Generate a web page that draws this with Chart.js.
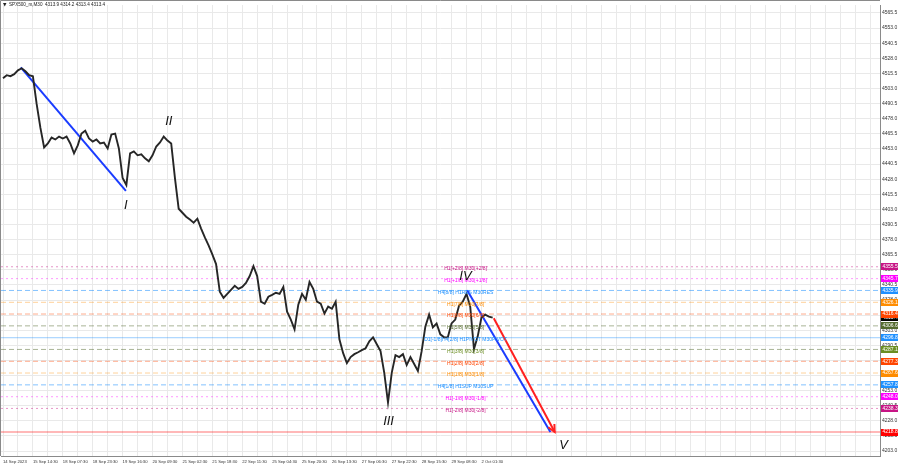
<!DOCTYPE html>
<html><head><meta charset="utf-8">
<script src="https://cdn.jsdelivr.net/npm/chart.js@4.4.0/dist/chart.umd.min.js"></script>
<style>html,body{margin:0;padding:0;background:#fff;}canvas{display:block;}</style>
</head><body>
<canvas id="c" width="900" height="468"></canvas>
<script>
// ---------- data ----------
const symbolTitle = 'SPX500_m,M30  4313.9 4314.2 4313.4 4313.4';
const timeLabels = ['14 Sep 2023','15 Sep 14:30','18 Sep 07:30','18 Sep 23:30','19 Sep 16:30',
  '20 Sep 09:30','21 Sep 02:30','21 Sep 18:30','22 Sep 11:30','25 Sep 04:30','25 Sep 20:30',
  '26 Sep 13:30','27 Sep 06:30','27 Sep 22:30','28 Sep 15:30','29 Sep 08:30','2 Oct 01:30'];
const barsPerLabel = 32;
const barsPerGrid = 16;
const barsPerSample = 4;
const closes = [4511.5,4514.0,4513.2,4514.8,4518.0,4519.7,4517.2,4514.0,4513.1,4490.2,
  4470.6,4454.2,4457.5,4462.4,4460.8,4463.2,4461.6,4463.2,4457.5,4449.3,
  4455.9,4465.7,4468.1,4461.6,4459.1,4460.8,4457.5,4458.3,4453.4,4464.9,
  4465.7,4453.4,4428.9,4423.1,4449.3,4451.0,4447.7,4448.5,4445.2,4442.8,
  4447.7,4455.0,4458.3,4463.2,4459.9,4457.5,4428.9,4403.5,4400.2,4396.9,
  4394.5,4392.0,4395.3,4387.1,4379.8,4373.2,4365.8,4357.7,4334.8,4329.8,
  4333.1,4336.4,4339.7,4337.2,4338.8,4342.1,4347.8,4356.0,4347.8,4326.6,
  4324.9,4330.7,4332.3,4334.0,4333.1,4338.8,4318.4,4311.8,4303.7,4324.1,
  4333.1,4328.2,4342.9,4337.2,4326.6,4324.9,4316.8,4322.5,4320.8,4326.6,
  4295.5,4284.0,4275.8,4280.8,4283.2,4284.8,4286.5,4288.1,4293.8,4297.1,
  4291.4,4285.7,4267.7,4243.2,4267.7,4282.4,4280.8,4283.2,4274.2,4280.8,
  4275.0,4269.3,4285.7,4306.1,4315.9,4305.3,4308.6,4299.6,4297.1,4297.1,
  4308.6,4311.8,4323.3,4326.6,4333.1,4322.5,4287.3,4297.9,4313.5,4315.9,
  4314.3,4313.4];
const lastPrice = 4313.4;
const yTickFirst = 4203.0, yTickStep = 12.5, yTickCount = 30;

const levelPrices = [4355.5,4345.7,4335.9,4326.1,4316.4,4306.6,4296.8,4287.1,4277.3,4267.6,4257.8,4248.0,4238.3,4218.8];
const levelNames = ['H1[+2/8] M30[+2/8]','H1[+1/8] M30[+1/8]','H4[8/8] H1RES M30RES','H1[7/8] M30[7/8]',
  'H1[6/8] M30[6/8]','H1[5/8] M30[5/8]','D1[-1/8]H4[2/8] H1PIVOT M30PIVOT','H1[3/8] M30[3/8]',
  'H1[2/8] M30[2/8]','H1[1/8] M30[1/8]','H4[1/8] H1SUP M30SUP','H1[-1/8] M30[-1/8]','H1[-2/8] M30[-2/8]',''];
const levelNameBar = 495;

const waveNames = ['I','II','III','IV','V'];
const waveBars = [131.5,177.4,412.6,494.9,599.9];
const wavePrices = [4405.9,4475.5,4227.6,4347.8,4207.9];

const trend1Bars = [19,131.5],   trend1Prices = [4520.5,4418.2];
const trend2Bars = [496.7,585.8], trend2Prices = [4336.1,4218.8];
const trend3Bars = [525.2,590.4], trend3Prices = [4312.9,4218.8];

// ---------- styles ----------
const X_MIN = -2.14, X_MAX = 938.5, Y_MIN = 4198.95, Y_MAX = 4572.05;
const levelLineColors = ['rgba(199,21,133,0.45)','rgba(255,0,255,0.40)','rgba(30,144,255,0.55)','rgba(255,140,0,0.40)',
  'rgba(255,69,0,0.45)','rgba(85,107,47,0.50)','rgba(30,144,255,0.45)','rgba(85,107,47,0.50)',
  'rgba(255,69,0,0.45)','rgba(255,140,0,0.40)','rgba(30,144,255,0.55)','rgba(255,0,255,0.40)','rgba(199,21,133,0.45)','rgba(255,0,0,0.28)'];
const levelBoxColors = ['#c71585','#ff00ff','#1e90ff','#ff8c00','#ff4500','#556b2f','#1e90ff','#6b8e23',
  '#ff4500','#ff8c00','#1e90ff','#ff00ff','#c71585','#ff0000'];
const levelDashes = [[2,3],[2,3],[5,3],[5,3],[5,3],[5,3],[],[5,3],[5,3],[5,3],[5,3],[2,3],[2,3],[]];
const levelWidths = [1,1,1,1,1,1,1,1,1,1,1,1,1,2];

const FONT = '"Liberation Sans", Arial, sans-serif';

const datasets = [];
datasets.push({
  data: closes.map((v,i)=>({x:i*barsPerSample, y:v})),
  borderColor:'#262626', borderWidth:1.9, pointRadius:0, tension:0, order:0
});
levelPrices.forEach((p,i)=>{
  datasets.push({data:[{x:X_MIN,y:p},{x:X_MAX,y:p}], borderColor:levelLineColors[i], borderDash:levelDashes[i],
    borderWidth:levelWidths[i], pointRadius:0, order:10});
});
datasets.push({data:trend1Bars.map((b,i)=>({x:b,y:trend1Prices[i]})), borderColor:'#1a3cff', borderWidth:2, pointRadius:0, order:1});
datasets.push({data:trend2Bars.map((b,i)=>({x:b,y:trend2Prices[i]})), borderColor:'#1a3cff', borderWidth:2, pointRadius:0, order:1});
datasets.push({data:trend3Bars.map((b,i)=>({x:b,y:trend3Prices[i]})), borderColor:'#ff2020', borderWidth:2, pointRadius:0, order:1});

const overlay = {
  id:'overlay',
  afterDatasetsDraw(chart){
    const {ctx, scales:{x,y}} = chart;
    ctx.save();
    ctx.font = '5px '+FONT; ctx.textAlign='center'; ctx.textBaseline='middle';
    levelNames.forEach((n,i)=>{
      if(!n) return;
      ctx.fillStyle = levelBoxColors[i];
      ctx.fillText(n, x.getPixelForValue(levelNameBar), y.getPixelForValue(levelPrices[i])+2);
    });
    const x1=x.getPixelForValue(trend3Bars[0]), y1=y.getPixelForValue(trend3Prices[0]);
    const x2=x.getPixelForValue(trend3Bars[1]), y2=y.getPixelForValue(trend3Prices[1]);
    const a=Math.atan2(y2-y1,x2-x1), L=8;
    ctx.strokeStyle='#ff2020'; ctx.lineWidth=2;
    ctx.beginPath();
    ctx.moveTo(x2-L*Math.cos(a-0.45), y2-L*Math.sin(a-0.45));
    ctx.lineTo(x2,y2);
    ctx.lineTo(x2-L*Math.cos(a+0.45), y2-L*Math.sin(a+0.45));
    ctx.stroke();
    ctx.fillStyle='#111'; ctx.font='italic 13px '+FONT;
    waveNames.forEach((n,i)=>ctx.fillText(n, x.getPixelForValue(waveBars[i]), y.getPixelForValue(wavePrices[i])));
    ctx.restore();
  },
  afterDraw(chart){
    const {ctx, chartArea:ca, scales:{y}} = chart;
    ctx.save();
    ctx.strokeStyle='#8a8a8a'; ctx.lineWidth=1;
    ctx.beginPath(); ctx.moveTo(0.5,ca.bottom); ctx.lineTo(0.5,0.5); ctx.lineTo(ca.right,0.5); ctx.stroke();
    ctx.fillStyle='#222'; ctx.textAlign='left'; ctx.textBaseline='middle';
    ctx.font='4.5px "DejaVu Sans"'; ctx.fillText('\u25BC',3,5);
    ctx.font='4.6px '+FONT; ctx.fillText(symbolTitle,9,5);
    const box=(p,col)=>{
      const py=y.getPixelForValue(p);
      ctx.fillStyle=col; ctx.fillRect(ca.right+1, Math.round(py-3.5), 17, 7);
      ctx.fillStyle='#fff'; ctx.font='5px '+FONT; ctx.textAlign='left'; ctx.textBaseline='middle';
      ctx.fillText(p.toFixed(1), ca.right+2.5, py);
    };
    box(lastPrice,'#000');
    levelPrices.forEach((p,i)=>box(p,levelBoxColors[i]));
    ctx.restore();
  }
};

new Chart(document.getElementById('c'), {
  type:'line',
  data:{datasets},
  options:{
    responsive:false, animation:false, devicePixelRatio:1,
    layout:{padding:0},
    plugins:{legend:{display:false}, tooltip:{enabled:false}},
    scales:{
      x:{type:'linear', min:X_MIN, max:X_MAX,
        afterFit(s){s.height=12;},
        afterBuildTicks(s){const t=[];for(let b=0;b<=X_MAX;b+=barsPerGrid)t.push({value:b});s.ticks=t;},
        grid:{color:'#e9e9e9', drawTicks:false},
        border:{color:'#8a8a8a'},
        ticks:{autoSkip:false, maxRotation:0, align:'start', padding:3, color:'#333', font:{family:FONT,size:4.2},
          callback(v){const k=v/barsPerLabel; return (Number.isInteger(k)&&k<timeLabels.length)?timeLabels[k]:'';}}
      },
      y:{type:'linear', position:'right', min:Y_MIN, max:Y_MAX,
        afterFit(s){s.width=20;},
        afterBuildTicks(s){const t=[];for(let i=0;i<yTickCount;i++)t.push({value:yTickFirst+i*yTickStep});s.ticks=t;},
        grid:{color:'#e9e9e9', drawTicks:false},
        border:{color:'#8a8a8a'},
        ticks:{padding:2, color:'#333', font:{family:FONT,size:5}, callback(v){return v.toFixed(1);}}
      }
    }
  },
  plugins:[overlay]
});
</script>
</body></html>
